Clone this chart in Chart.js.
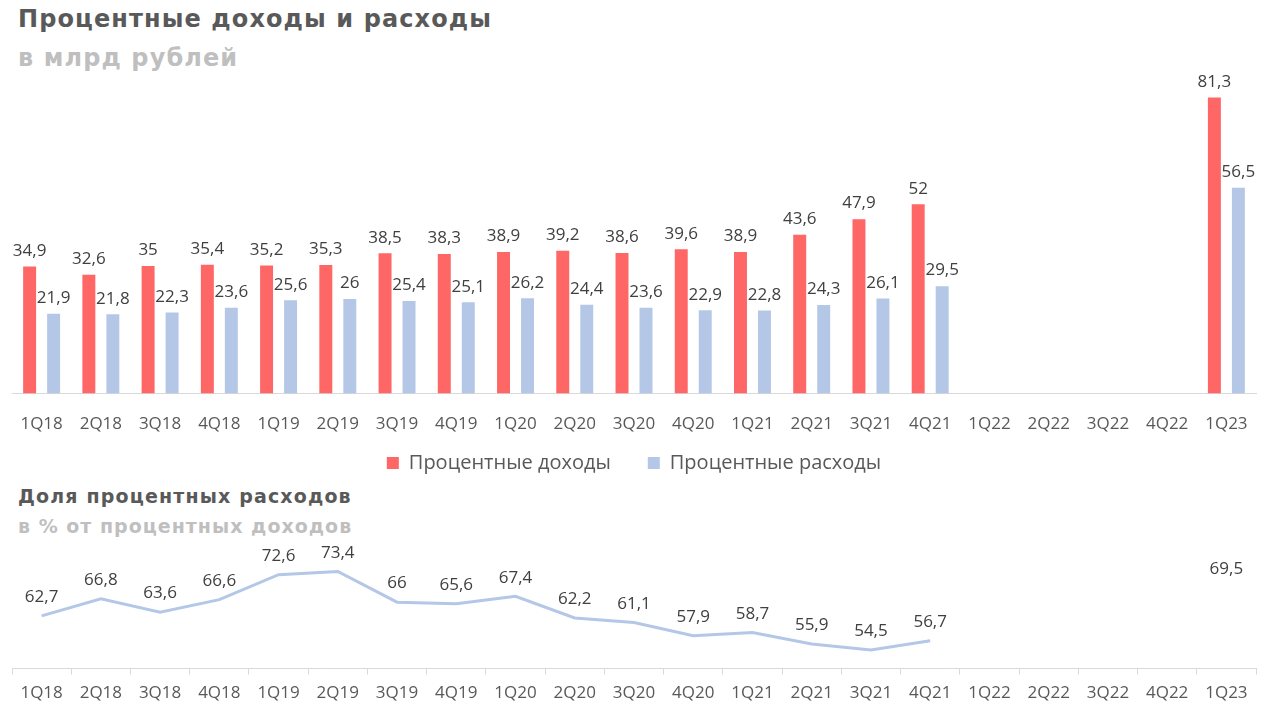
<!DOCTYPE html>
<html>
<head>
<meta charset="utf-8">
<script src="https://cdn.jsdelivr.net/npm/chart.js@4"></script>
<style>
  body { margin: 0; background: #fff; width: 1267px; height: 707px; position: relative; overflow: hidden; }
  .ttl { position: absolute; left: 18px; font-family: "DejaVu Sans", sans-serif; font-weight: bold; white-space: nowrap; }
  #t1 { top: 5px; font-size: 24px; letter-spacing: 1.1px; color: #595959; }
  #s1 { top: 44px; font-size: 24px; letter-spacing: 1.1px; color: #bfbfbf; }
  #t2 { top: 485px; font-size: 19px; letter-spacing: 1.15px; color: #595959; }
  #s2 { top: 515px; font-size: 19px; letter-spacing: 1px; color: #bfbfbf; }
  #wrap1 { position: absolute; left: 0; top: 0; width: 1267px; height: 483px; }
  #wrap2 { position: absolute; left: 0; top: 531px; width: 1267px; height: 180px; }
</style>
</head>
<body>
<div class="ttl" id="t1">Процентные доходы и расходы</div>
<div class="ttl" id="s1">в млрд рублей</div>
<div class="ttl" id="t2">Доля процентных расходов</div>
<div class="ttl" id="s2">в % от процентных доходов</div>
<div id="wrap1"><canvas id="barChart"></canvas></div>
<div id="wrap2"><canvas id="lineChart"></canvas></div>
<script>
const quarters = ['1Q18', '2Q18', '3Q18', '4Q18', '1Q19', '2Q19', '3Q19', '4Q19', '1Q20', '2Q20', '3Q20',
    '4Q20', '1Q21', '2Q21', '3Q21', '4Q21', '1Q22', '2Q22', '3Q22', '4Q22', '1Q23'];
const interestIncome = [34.9, 32.6, 35, 35.4, 35.2, 35.3, 38.5, 38.3, 38.9, 39.2, 38.6,
    39.6, 38.9, 43.6, 47.9, 52, null, null, null, null, 81.3];
const interestExpense = [21.9, 21.8, 22.3, 23.6, 25.6, 26, 25.4, 25.1, 26.2, 24.4, 23.6,
    22.9, 22.8, 24.3, 26.1, 29.5, null, null, null, null, 56.5];
const expenseShare = [62.7, 66.8, 63.6, 66.6, 72.6, 73.4, 66, 65.6, 67.4, 62.2, 61.1,
    57.9, 58.7, 55.9, 54.5, 56.7, null, null, null, null, 69.5];

const tickFont = { family: '"Open Sans", sans-serif', size: 17 };

// value labels above bars / points
const valueLabels = {
    id: 'valueLabels',
    afterDatasetsDraw(chart, args, opts) {
        const ctx = chart.ctx;
        ctx.save();
        ctx.font = '17px "Open Sans", sans-serif';
        ctx.fillStyle = '#404040';
        ctx.textAlign = 'center';
        ctx.textBaseline = 'bottom';
        chart.data.datasets.forEach((ds, i) => {
            chart.getDatasetMeta(i).data.forEach((el, j) => {
                const v = ds.data[j];
                if (v === null) return;
                ctx.fillText(String(v).replace('.', ','), el.x, el.y - opts.gap);
            });
        });
        ctx.restore();
    }
};

new Chart(document.getElementById('barChart'), {
    type: 'bar',
    data: {
        labels: quarters,
        datasets: [{
            label: 'Процентные доходы',
            data: interestIncome,
            backgroundColor: '#ff6666',
            categoryPercentage: 0.81,
            barPercentage: 0.54
        }, {
            label: 'Процентные расходы',
            data: interestExpense,
            backgroundColor: '#b4c7e7',
            categoryPercentage: 0.81,
            barPercentage: 0.54
        }]
    },
    options: {
        responsive: true,
        maintainAspectRatio: false,
        animation: false,
        layout: { padding: { left: 12, right: 11, top: 84, bottom: 0 } },
        scales: {
            x: {
                grid: { display: false },
                border: { color: '#d9d9d9', width: 1 },
                ticks: { color: '#595959', font: tickFont, padding: 12, maxRotation: 0, autoSkip: false }
            },
            y: { display: false, min: 0, max: 85 }
        },
        plugins: {
            legend: {
                position: 'bottom',
                labels: {
                    boxWidth: 12, boxHeight: 12, padding: 7, color: '#595959',
                    font: { family: '"Open Sans", sans-serif', size: 20 },
                    // widen the gap between the two items without growing the legend height
                    generateLabels(chart) {
                        const items = Chart.defaults.plugins.legend.labels.generateLabels(chart);
                        items[0].text += '\u2003\u2002';
                        return items;
                    }
                }
            },
            tooltip: { enabled: false },
            valueLabels: { gap: 7 }
        }
    },
    plugins: [valueLabels]
});

new Chart(document.getElementById('lineChart'), {
    type: 'line',
    data: {
        labels: quarters,
        datasets: [{
            label: 'Доля процентных расходов',
            data: expenseShare,
            borderColor: '#b4c7e7',
            borderWidth: 3,
            pointRadius: 0,
            tension: 0,
            spanGaps: false
        }]
    },
    options: {
        responsive: true,
        maintainAspectRatio: false,
        animation: false,
        layout: { padding: { left: 12, right: 11, top: 13, bottom: 0 } },
        scales: {
            x: {
                offset: true,
                grid: { offset: true, drawOnChartArea: false, drawTicks: true, tickLength: 6, color: '#d9d9d9' },
                border: { color: '#d9d9d9', width: 1 },
                ticks: { color: '#595959', font: tickFont, padding: 8, maxRotation: 0, autoSkip: false }
            },
            y: { display: false, min: 50, max: 80 }
        },
        plugins: {
            legend: { display: false },
            tooltip: { enabled: false },
            valueLabels: { gap: 10 }
        }
    },
    plugins: [valueLabels]
});
</script>
</body>
</html>
